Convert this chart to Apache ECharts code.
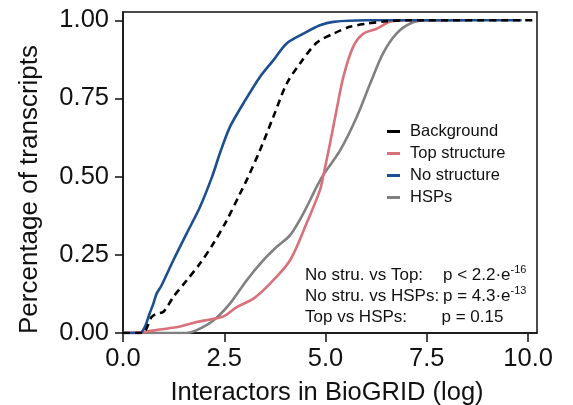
<!DOCTYPE html>
<html>
<head>
<meta charset="utf-8">
<script src="https://cdn.jsdelivr.net/npm/echarts@6/dist/echarts.min.js"></script>
<style>
html,body{margin:0;padding:0;background:#fff;}
#chart{width:573px;height:405px;}
</style>
</head>
<body>
<div id="chart"></div>
<script>
// ---- data ----
const seriesNames = ['Background', 'Top structure', 'No structure', 'HSPs'];

const bgX  = [0, 0.5, 0.6, 0.7, 0.83, 1.0, 1.24, 1.57, 1.9, 2.23, 2.56, 2.89, 3.05, 3.38, 3.71, 4.04, 4.37, 4.78, 5.19, 5.6, 6.01, 6.5, 7.0, 10.17];
const bgY  = [0, 0, 0.02, 0.05, 0.062, 0.068, 0.115, 0.168, 0.222, 0.286, 0.36, 0.446, 0.488, 0.584, 0.691, 0.797, 0.862, 0.928, 0.957, 0.979, 0.989, 0.997, 1.0, 1.0];

const topX = [0, 0.5, 0.91, 1.41, 1.82, 2.15, 2.48, 2.81, 3.22, 3.63, 4.12, 4.53, 4.86, 4.94, 5.11, 5.27, 5.44, 5.68, 5.93, 6.26, 6.59, 7.0, 8.1];
const topY = [0, 0.003, 0.011, 0.021, 0.035, 0.043, 0.053, 0.083, 0.11, 0.158, 0.232, 0.35, 0.456, 0.5, 0.606, 0.712, 0.819, 0.915, 0.957, 0.973, 0.995, 1.0, 1.0];

const noX  = [0, 0.42, 0.54, 0.65, 0.75, 0.83, 0.95, 1.24, 1.57, 1.9, 2.2, 2.39, 2.64, 2.97, 3.38, 3.71, 4.04, 4.45, 4.86, 5.19, 6.0, 9.84];
const noY  = [0, 0, 0.02, 0.06, 0.094, 0.126, 0.152, 0.232, 0.318, 0.403, 0.5, 0.574, 0.659, 0.734, 0.819, 0.872, 0.926, 0.957, 0.984, 0.995, 1.0, 1.0];

const hspX = [0, 1.57, 1.82, 2.23, 2.64, 3.05, 3.46, 3.79, 4.12, 4.45, 4.78, 4.94, 5.36, 5.77, 6.1, 6.42, 6.75, 7.08, 7.5, 8.5];
const hspY = [0, 0, 0.009, 0.04, 0.094, 0.168, 0.232, 0.275, 0.312, 0.382, 0.467, 0.505, 0.584, 0.691, 0.797, 0.894, 0.957, 0.989, 1.0, 1.0];

const xTicks = [0, 2.5, 5, 7.5, 10];
const yTicks = [0, 0.25, 0.5, 0.75, 1];

const statLabels = ['No stru. vs Top:', 'No stru. vs HSPs:', 'Top vs HSPs:'];
const statValues = ['p < 2.2·e{sup|-16}', 'p = 4.3·e{sup|-13}', 'p = 0.15'];

// ---- chart ----
const zip = (xs, ys) => xs.map((x, i) => [x, ys[i]]);
const FONT = '"Liberation Sans", Arial, Helvetica, sans-serif';
const colors = { bg: '#000000', top: '#d9707a', no: '#1c4f91', hsp: '#808080' };

const chart = echarts.init(document.getElementById('chart'), null, { renderer: 'canvas' });

function lineSeries(name, data, color, z, dashed) {
  return {
    name, type: 'line', data, z,
    showSymbol: false, symbol: 'none',
    smooth: 0.3,
    lineStyle: { color, width: 2.6, type: dashed ? [7, 5] : 'solid' },
    itemStyle: { color },
    emphasis: { disabled: true },
    animation: false
  };
}

const statGraphics = [];
const statY = [275, 296, 317];
const valX = [443, 443, 441.5];
statLabels.forEach((t, i) => {
  statGraphics.push({
    type: 'text', x: 305, y: statY[i],
    style: { text: t, font: '17px ' + FONT, fill: '#111', verticalAlign: 'middle', align: 'left' }
  });
  statGraphics.push({
    type: 'text', x: valX[i], y: statY[i],
    style: {
      text: statValues[i], font: '17px ' + FONT, fill: '#111',
      verticalAlign: 'middle', align: 'left', lineHeight: 22,
      rich: { sup: { fontSize: 11, fontFamily: FONT, verticalAlign: 'top', lineHeight: 11, fill: '#111' } }
    }
  });
});

chart.setOption({
  animation: false,
  backgroundColor: '#fff',
  grid: { left: 123, right: 36, top: 12, bottom: 72, outerBoundsMode: 'none', containLabel: false, show: true, borderColor: '#111', borderWidth: 1.5, backgroundColor: 'transparent' },
  legend: {
    data: seriesNames,
    orient: 'vertical',
    left: 382, top: 118,
    icon: 'rect', itemWidth: 13, itemHeight: 3, itemGap: 5,
    textStyle: { fontFamily: FONT, fontSize: 16.5, color: '#111', lineHeight: 16, padding: [0, 0, 0, 5] }
  },
  xAxis: {
    type: 'value', min: 0, max: 10.22,
    name: 'Interactors in BioGRID (log)', nameLocation: 'middle', nameGap: 47,
    nameTextStyle: { fontFamily: FONT, fontSize: 25.5, color: '#111', padding: [0, 6, 0, 0] },
    axisLine: { show: true, onZero: false, lineStyle: { color: '#111', width: 1.5 } },
    axisTick: { show: true, length: 9, customValues: xTicks, lineStyle: { color: '#111', width: 1.5 } },
    axisLabel: { customValues: xTicks, fontFamily: FONT, fontSize: 25.5, color: '#111', margin: 13, formatter: v => v.toFixed(1) },
    splitLine: { show: false }
  },
  yAxis: {
    type: 'value', min: 0, max: 1.0265,
    name: 'Percentage of transcripts', nameLocation: 'middle', nameGap: 80,
    nameTextStyle: { fontFamily: FONT, fontSize: 26, color: '#111', padding: [0, 34, 0, 0] },
    axisLine: { show: true, onZero: false, lineStyle: { color: '#111', width: 1.5 } },
    axisTick: { show: true, length: 8, customValues: yTicks, lineStyle: { color: '#111', width: 1.5 } },
    axisLabel: { customValues: yTicks, fontFamily: FONT, fontSize: 25.5, color: '#111', margin: 14, formatter: v => v.toFixed(2) },
    splitLine: { show: false }
  },
  series: [
    lineSeries('HSPs', zip(hspX, hspY), colors.hsp, 2, false),
    lineSeries('Top structure', zip(topX, topY), colors.top, 3, false),
    lineSeries('No structure', zip(noX, noY), colors.no, 4, false),
    lineSeries('Background', zip(bgX, bgY), colors.bg, 5, true)
  ],
  graphic: statGraphics
});
</script>
</body>
</html>
